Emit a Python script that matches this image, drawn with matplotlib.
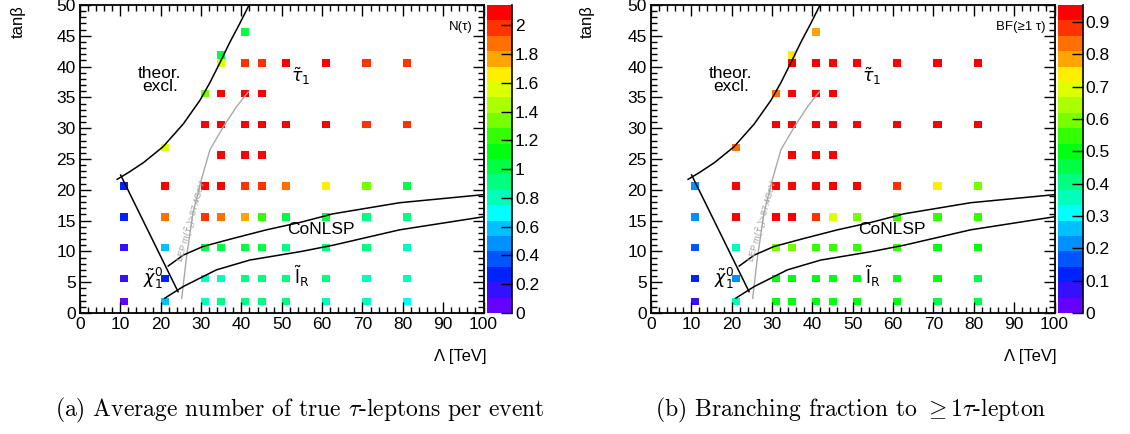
import numpy as np
import matplotlib
matplotlib.use("Agg")
import matplotlib.pyplot as plt
from matplotlib.colors import ListedColormap, BoundaryNorm
from matplotlib.ticker import MultipleLocator, FuncFormatter

plt.rcParams['font.family'] = ['Liberation Sans', 'DejaVu Sans']
plt.rcParams['mathtext.fontset'] = 'dejavusans'

# ---------------- data ----------------
lam = [10, 20, 30, 35, 40, 45, 50, 60, 70, 80,
       10, 20, 30, 35, 40, 45, 50, 60, 70, 80,
       10, 20, 30, 35, 40, 45, 50, 60, 70, 80,
       10, 20, 30, 35, 40, 45, 50, 60, 70, 80,
       10, 20, 30, 35, 40, 45, 50, 60, 70, 80,
       20,
       35, 40, 45,
       30, 35, 40, 45, 50, 60, 70, 80,
       30, 35, 40, 45,
       35, 40, 45, 50, 60, 70, 80,
       35,
       40]
tanb = [2] * 10 + [5] * 10 + [10] * 10 + [15] * 10 + [20] * 10 + \
       [27] + [25] * 3 + [30] * 8 + [35] * 4 + [40] * 7 + [42] + [45]

n_tau = [0.05, 0.59, 0.80, 0.91, 0.91, 0.91, 0.91, 0.80, 0.80, 0.70,
         0.16, 0.27, 0.80, 0.80, 0.91, 0.91, 0.91, 0.91, 0.80, 0.80,
         0.16, 0.59, 1.02, 1.02, 1.02, 1.02, 0.91, 0.91, 0.91, 0.80,
         0.27, 1.88, 1.98, 1.88, 1.77, 1.23, 1.02, 1.02, 0.91, 0.91,
         0.27, 2.08, 2.08, 2.08, 1.98, 1.98, 1.88, 1.66, 1.34, 1.02,
         1.55,
         2.08, 2.08, 2.08,
         2.08, 2.08, 2.08, 2.08, 2.08, 2.08, 1.98, 1.98,
         1.34, 2.08, 2.08, 2.08,
         1.55, 1.98, 1.98, 2.08, 2.08, 1.98, 1.98,
         1.02,
         1.02]

bf_tau = [0.07, 0.36, 0.50, 0.50, 0.50, 0.50, 0.50, 0.50, 0.45, 0.45,
          0.12, 0.21, 0.50, 0.50, 0.50, 0.50, 0.50, 0.50, 0.50, 0.45,
          0.17, 0.36, 0.60, 0.60, 0.55, 0.55, 0.55, 0.55, 0.50, 0.50,
          0.21, 0.93, 0.93, 0.93, 0.88, 0.69, 0.60, 0.55, 0.55, 0.55,
          0.21, 0.93, 0.93, 0.93, 0.93, 0.93, 0.93, 0.88, 0.74, 0.60,
          0.83,
          0.93, 0.93, 0.93,
          0.93, 0.93, 0.93, 0.93, 0.93, 0.93, 0.93, 0.93,
          0.83, 0.93, 0.93, 0.93,
          0.93, 0.93, 0.93, 0.93, 0.93, 0.93, 0.93,
          0.74,
          0.79]

# boundary curves (Lambda [TeV], tan beta)
theor_lam = [9.2, 12.0, 15.7, 20.6, 25.6, 29.7, 32.2, 34.65, 37.1, 39.6, 41.9]
theor_tb = [21.7, 22.8, 24.4, 27.0, 30.7, 34.5, 37.4, 40.6, 43.9, 47.0, 50.0]

chi_lam = [10.07, 24.3]
chi_tb = [22.4, 3.46]

conlsp_lam = [21.86, 25.6, 30.5, 37.9, 46.2, 54.5, 62.7, 79.2, 99.8]
conlsp_tb = [7.63, 9.4, 10.8, 12.1, 13.5, 14.7, 16.1, 17.9, 19.2]

slep_lam = [21.0, 25.6, 33.8, 42.1, 54.5, 62.7, 79.2, 99.8]
slep_tb = [2.4, 4.3, 7.0, 8.6, 9.95, 11.0, 13.5, 15.6]

lep_lam = [25.2, 26.4, 28.0, 29.8, 32.2, 35.5, 38.8, 41.7]
lep_tb = [2.4, 9.1, 16.2, 21.0, 26.5, 30.2, 33.5, 35.9]

palette = ['#6600ff', '#3311ff', '#0022ff', '#0055ff', '#0090ff',
           '#00c0ff', '#00ffff', '#00ffbb', '#00ff80', '#00ff44',
           '#00ff11', '#33ff00', '#77ff00', '#aaff00', '#ddff00',
           '#ffee00', '#ffa500', '#ff7000', '#ff3300', '#ff0000']

x_edges = np.arange(0, 100.01, 2)
y_edges = np.arange(0, 50.01, 1.25)

W, H = 1130, 434
fig = plt.figure(figsize=(W / 100, H / 100), dpi=100)


def fx(px):
    return px / W


def fy(py):
    return 1 - py / H


FS = 12.5


def panel(ax_left, cb_left, cb_right, values, vmax, cticks, ztitle, ztitle_x):
    ax = fig.add_axes([fx(ax_left), fy(313), fx(403.5), 308 / H])
    cax = fig.add_axes([fx(cb_left), fy(313), fx(cb_right - cb_left), 308 / H])
    cmap = ListedColormap(palette)
    norm = BoundaryNorm(np.linspace(0, vmax, 21), 20)
    h = ax.hist2d(lam, tanb, bins=[x_edges, y_edges], weights=values,
                  cmap=cmap, norm=norm, cmin=1e-6, zorder=1)
    ax.plot(theor_lam, theor_tb, color='k', lw=1.1, zorder=3)
    ax.plot(chi_lam, chi_tb, color='k', lw=1.1, zorder=3)
    ax.plot(conlsp_lam, conlsp_tb, color='k', lw=1.1, zorder=3)
    ax.plot(slep_lam, slep_tb, color='k', lw=1.1, zorder=3)
    ax.plot(lep_lam, lep_tb, color='#a8a8a8', lw=1.0, zorder=2)
    ax.set_xlim(0, 100)
    ax.set_ylim(0, 50)
    ax.xaxis.set_major_locator(MultipleLocator(10))
    ax.xaxis.set_minor_locator(MultipleLocator(2))
    ax.yaxis.set_major_locator(MultipleLocator(5))
    ax.yaxis.set_minor_locator(MultipleLocator(1))
    ax.tick_params(which='both', direction='in', top=True, right=True,
                   labelsize=FS, width=1.0)
    ax.tick_params(which='major', length=8, pad=3)
    ax.tick_params(which='minor', length=4)
    for s in ax.spines.values():
        s.set_linewidth(1.3)

    ax.text(19.8, 37.8, 'theor.\nexcl.', ha='center', va='center', fontsize=FS,
            multialignment='center', linespacing=0.8)
    ax.text(54.8, 38.4, r'$\tilde{\tau}_1$', ha='center', va='center', fontsize=FS)
    ax.text(59.8, 13.5, 'CoNLSP', ha='center', va='center', fontsize=FS)
    ax.text(55.0, 6.0, r'$\tilde{\mathrm{l}}_\mathrm{R}$', ha='center', va='center', fontsize=FS)
    ax.text(18.0, 5.6, r'$\tilde{\chi}_1^0$', ha='center', va='center', fontsize=FS)
    ax.text(27.85, 15.0, r'LEP m($\tilde{\tau}_1$)>87.4GeV', ha='center', va='center',
            rotation=74, fontsize=6.5, color='#a0a0a0')
    ax.text(ztitle_x, 46.5, ztitle, ha='right', va='center', fontsize=9.5)

    cb = fig.colorbar(h[3], cax=cax, ticks=cticks)
    cb.outline.set_visible(False)
    cb.minorticks_off()
    cax.tick_params(direction='in', length=8, width=1.0, labelsize=FS, pad=2)
    cax.yaxis.set_major_formatter(FuncFormatter(lambda v, p: f'{v:g}'))
    cax.plot([1, 1], [0, 1], transform=cax.transAxes, color='k', lw=1.2, clip_on=False)
    return ax


axL = panel(80, 486.7, 512.3, n_tau, 2.14, np.arange(0, 2.01, 0.2), 'N(τ)', 97.2)
axR = panel(651, 1058, 1083, bf_tau, 0.953, np.arange(0, 0.91, 0.1), 'BF(≥1 τ)', 97.8)

fig.text(fx(18.5), fy(5), 'tanβ', rotation=90, ha='center', va='top', fontsize=12)
fig.text(fx(587), fy(5), 'tanβ', rotation=90, ha='center', va='top', fontsize=12)
fig.text(fx(487), fy(357), 'Λ [TeV]', ha='right', va='center', fontsize=12)
fig.text(fx(1057), fy(357), 'Λ [TeV]', ha='right', va='center', fontsize=12)

fig.text(fx(300), fy(410), r'(a) Average number of true $\tau$-leptons per event',
         ha='center', va='center', fontsize=17, family='cmr10', math_fontfamily='cm')
fig.text(fx(851), fy(410), r'(b) Branching fraction to $\geq 1\tau$-lepton',
         ha='center', va='center', fontsize=17, family='cmr10', math_fontfamily='cm')

fig.savefig('out.png', dpi=100)
